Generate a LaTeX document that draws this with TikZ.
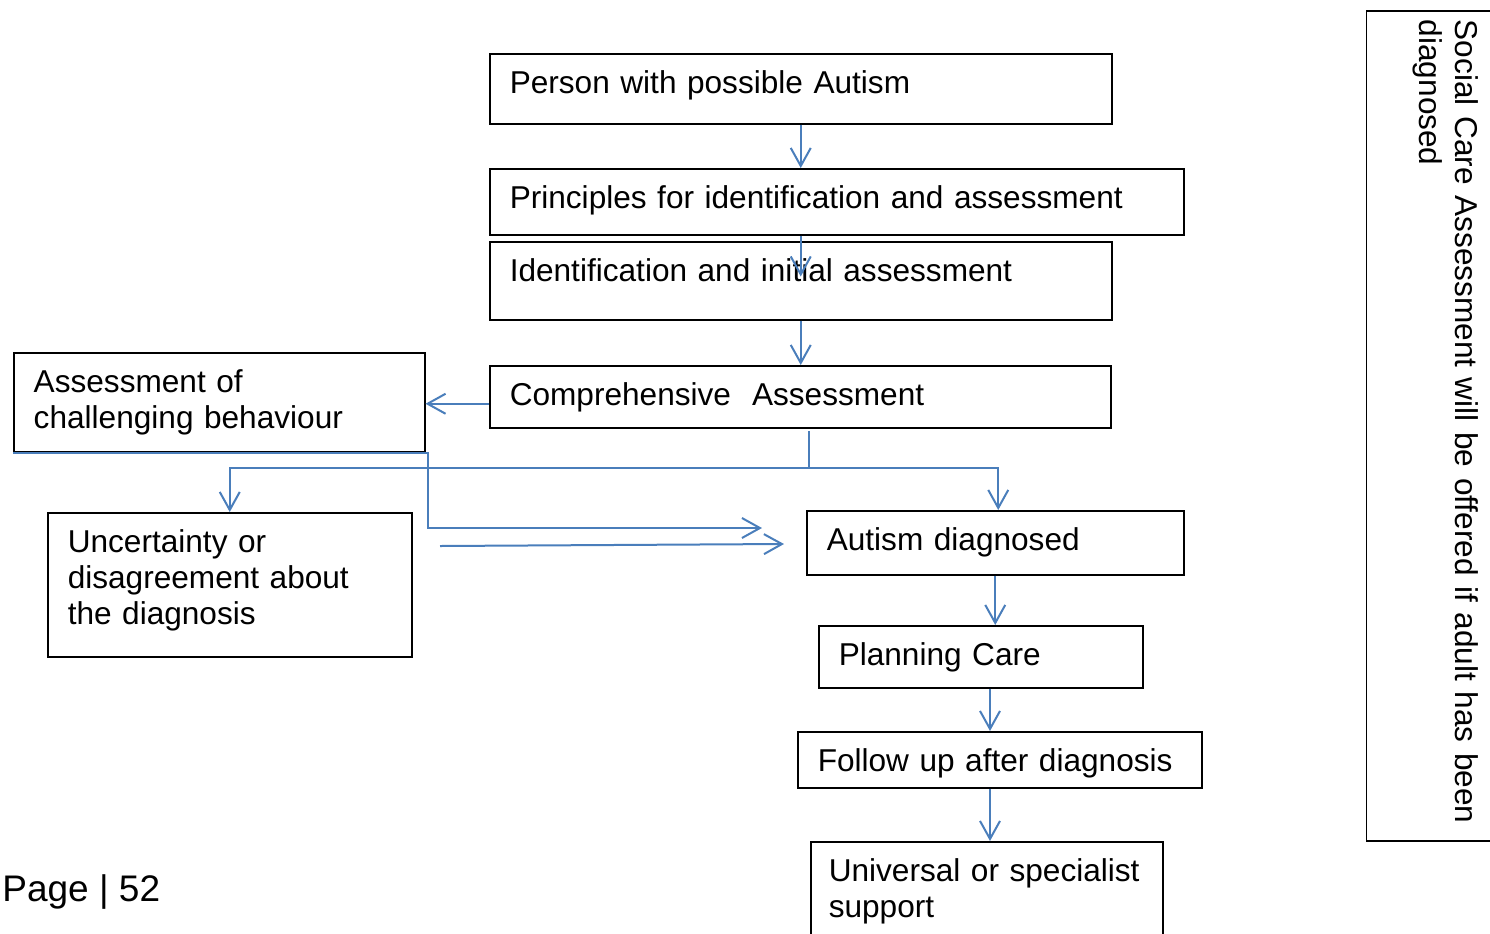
\documentclass[tikz,border=0pt]{standalone}
\usepackage{fontspec}
\setmainfont{Liberation Sans}
\usetikzlibrary{arrows.meta}
\definecolor{linkblue}{HTML}{4A7EBB}

\begin{document}
\begin{tikzpicture}[x=0.5pt,y=-0.5pt,
  font=\fontsize{15.8}{18}\selectfont,
  stepbox/.style={draw=black,line width=0.75pt,anchor=north west,align=left,
    inner xsep=10pt,inner ysep=0pt,text height=20pt},
  link/.style={draw=linkblue,line width=1pt},
  arr/.style={link,-{Straight Barb[length=9pt,width=10pt]}}]
\useasboundingbox (0,0) rectangle (1490,933);
\clip (0,0) rectangle (1490,933);

\node[stepbox,text width=291pt,text depth=15pt] (person) at (489,53) {Person with possible Autism};
\node[stepbox,text width=327pt,text depth=13pt] (principles) at (489,168) {Principles for identification and assessment};
\node[stepbox,text width=291pt,text depth=19pt] (ident) at (489,241) {Identification and initial assessment};
\node[stepbox,text width=290.5pt,text depth=11pt] (compr) at (489,365) {Comprehensive\ \ Assessment};
\node[stepbox,text width=185.5pt,text depth=29.5pt] (challenge) at (13,352) {Assessment of\\challenging behaviour};
\node[stepbox,text width=162pt,text depth=52pt] (uncert) at (47,512) {Uncertainty or\\disagreement about\\the diagnosis};
\node[stepbox,text width=168.5pt,text depth=12pt] (autism) at (806,510) {Autism diagnosed};
\node[stepbox,text width=142pt,text depth=11pt] (planning) at (818,625) {Planning Care};
\node[stepbox,text width=182pt,text depth=8pt] (follow) at (797,731) {Follow up after diagnosis};
\node[stepbox,text width=158pt,inner xsep=9pt,text depth=40pt] (universal) at (810,841) {Universal or specialist\\support};
\node[stepbox,rotate=-90,text width=412pt,inner xsep=1.5pt,text height=22pt,text depth=44.5pt] (social) at (1500,10) {\hspace{3pt}Social Care Assessment will be offered if adult has been\\\hspace{3pt}diagnosed};
\node[anchor=base west,inner sep=0pt,font=\fontsize{18.5}{22}\selectfont] (page) at (2,901) {Page | 52};

\draw[arr] (person.south) -- (person.south |- principles.north);
\draw[arr] (person.south |- principles.south) -- ++(0,41);
\draw[arr] (ident.south) -- (ident.south |- compr.north);
\draw[arr] ([yshift=-3.5pt]compr.west) -- ([yshift=-3.5pt]compr.west -| challenge.east);
\coordinate (split) at (809,468);
\draw[link] (split) -- ++(0,-37);
\draw[arr] (split) -| (uncert.north);
\draw[arr] (split) -| ([xshift=1.5pt]autism.north);
\coordinate (tipA) at (762,528);
\draw[arr] (challenge.south west) -- ([xshift=1pt]challenge.south east) |- (tipA);
\coordinate (tailB) at (440,546);
\coordinate (tipB) at (784,544);
\draw[arr] (tailB) -- (tipB);
\coordinate (col) at (990,0);
\draw[arr] (autism.south) -- (autism.south |- planning.north);
\draw[arr] (col |- planning.south) -- (col |- follow.north);
\draw[arr] (col |- follow.south) -- (col |- universal.north);
\end{tikzpicture}
\end{document}
